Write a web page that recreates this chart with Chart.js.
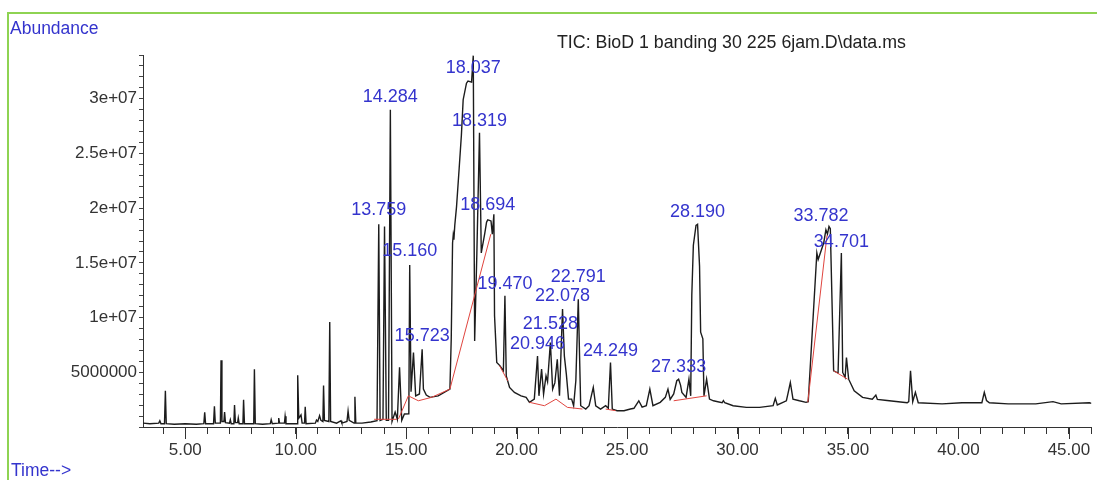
<!DOCTYPE html>
<html>
<head>
<meta charset="utf-8">
<script src="https://cdn.jsdelivr.net/npm/chart.js@4.4.1/dist/chart.umd.min.js"></script>
<style>
  html, body { margin: 0; padding: 0; background: #fff; }
  canvas { display: block; }
</style>
</head>
<body>
<canvas id="tic-chart" width="1097" height="480"></canvas>
<script>
// retention time (min) and abundance of the TIC trace
const traceTime = [
  3.09, 3.4, 3.8, 3.85, 3.9, 4.06, 4.1, 4.14, 4.5, 5.0, 5.5, 5.84, 5.88, 5.92,
  6.28, 6.32, 6.36, 6.59, 6.62, 6.66, 6.75, 6.78, 6.82, 7.0, 7.04, 7.08, 7.2, 7.23,
  7.27, 7.37, 7.4, 7.44, 7.61, 7.64, 7.68, 8.1, 8.13, 8.17, 8.5, 8.85, 8.89, 8.94,
  9.2, 9.23, 9.27, 9.49, 9.52, 9.56, 10.06, 10.09, 10.14, 10.24, 10.29, 10.4, 10.43,
  10.47, 10.89, 10.94, 11.0, 11.08, 11.14, 11.23, 11.26, 11.3, 11.5, 11.54, 11.58,
  11.85, 12.05, 12.09, 12.32, 12.37, 12.42, 12.64, 12.68, 12.72, 13.0, 13.4, 13.68,
  13.759, 13.82, 13.95, 14.02, 14.1, 14.2, 14.284, 14.36, 14.5, 14.6, 14.7, 14.8,
  14.92, 15.12, 15.16, 15.22, 15.33, 15.43, 15.6, 15.723, 15.78, 15.91, 16.08, 16.45,
  16.98, 17.04, 17.1, 17.13, 17.16, 17.2, 17.28, 17.4, 17.5, 17.58, 17.73, 17.8,
  17.96, 18.037, 18.1, 18.2, 18.319, 18.4, 18.56, 18.64, 18.694, 18.84, 18.9, 18.97,
  19.0, 19.05, 19.1, 19.25, 19.4, 19.47, 19.53, 19.68, 19.9, 20.2, 20.43, 20.58,
  20.8, 20.946, 21.01, 21.13, 21.22, 21.33, 21.4, 21.528, 21.63, 21.73, 21.84, 21.94,
  22.078, 22.16, 22.25, 22.35, 22.49, 22.58, 22.68, 22.791, 22.9, 23.13, 23.28, 23.47,
  23.58, 23.8, 24.03, 24.15, 24.249, 24.33, 24.55, 24.86, 25.15, 25.31, 25.53, 25.68,
  25.87, 26.03, 26.17, 26.5, 26.73, 26.85, 26.95, 27.11, 27.25, 27.333, 27.42, 27.48,
  27.67, 27.8, 27.88, 27.93, 28.0, 28.12, 28.19, 28.28, 28.33, 28.43, 28.48, 28.6,
  28.73, 28.91, 29.3, 29.36, 29.42, 29.8, 30.4, 31.0, 31.61, 31.71, 31.8, 32.21,
  32.28, 32.39, 32.51, 32.8, 33.1, 33.2, 33.59, 33.65, 33.9, 34.0, 34.07, 34.14,
  34.2, 34.35, 34.55, 34.7, 34.76, 34.87, 34.93, 35.03, 35.28, 35.66, 36.1, 36.26,
  36.33, 36.77, 37.68, 37.75, 37.83, 37.93, 38.05, 38.18, 39.26, 40.16, 41.06, 41.17,
  41.27, 41.4, 42.25, 43.5, 44.28, 44.65, 45.93, 46.02
];
const traceAbundance = [
  0.35e6, 0.3e6, 0.35e6, 0.57e6, 0.3e6, 0.3e6, 3.29e6, 0.3e6, 0.25e6, 0.3e6, 0.25e6, 0.3e6, 1.33e6, 0.3e6,
  0.3e6, 1.87e6, 0.35e6, 0.35e6, 6.06e6, 0.5e6, 0.5e6, 1.36e6, 0.4e6, 0.35e6, 0.66e6, 0.3e6, 0.3e6, 1.99e6,
  0.4e6, 0.4e6, 0.81e6, 0.3e6, 0.3e6, 2.47e6, 0.3e6, 0.3e6, 5.25e6, 0.3e6, 0.25e6, 0.3e6, 0.66e6, 0.3e6,
  0.35e6, 0.81e6, 0.35e6, 0.35e6, 0.97e6, 0.3e6, 0.3e6, 4.7e6, 0.8e6, 1.09e6, 0.35e6, 0.35e6, 1.84e6,
  0.3e6, 0.35e6, 0.63e6, 0.5e6, 1.03e6, 0.6e6, 0.5e6, 3.77e6, 0.6e6, 0.5e6, 9.53e6, 0.5e6,
  0.35e6, 0.57e6, 0.35e6, 0.5e6, 1.45e6, 0.6e6, 0.35e6, 2.74e6, 0.35e6, 0.35e6, 0.45e6, 0.57e6,
  18.4e6, 0.6e6, 0.7e6, 18.2e6, 0.6e6, 0.6e6, 28.8e6, 0.5e6, 1.36e6, 0.7e6, 5.43e6, 0.6e6,
  1.18e6, 1.2e6, 14.7e6, 3.2e6, 6.76e6, 2.83e6, 3.0e6, 7.06e6, 3.44e6, 2.9e6, 2.69e6, 2.83e6,
  3.44e6, 8.0e6, 16.7e6, 17.4e6, 17.0e6, 18.3e6, 20.0e6, 23.5e6, 26.5e6, 29.7e6, 31.2e6, 31.4e6,
  31.3e6, 33.7e6, 7.8e6, 15.8e6, 26.7e6, 15.8e6, 17.6e6, 18.6e6, 18.8e6, 18.7e6, 17.5e6, 19.3e6,
  10.1e6, 8.0e6, 5.85e6, 5.55e6, 5.1e6, 11.9e6, 4.64e6, 3.59e6, 3.14e6, 2.83e6, 2.69e6, 2.24e6,
  2.53e6, 6.45e6, 2.83e6, 5.25e6, 2.99e6, 4.64e6, 4.1e6, 7.67e6, 3.44e6, 4.0e6, 6.15e6, 2.83e6,
  10.7e6, 6.45e6, 4.8e6, 2.53e6, 2.53e6, 1.93e6, 4.19e6, 11.6e6, 1.93e6, 1.63e6, 1.93e6, 3.59e6,
  1.93e6, 1.63e6, 1.93e6, 1.7e6, 5.85e6, 1.63e6, 1.48e6, 1.48e6, 1.63e6, 1.7e6, 2.38e6, 1.8e6,
  1.93e6, 3.44e6, 1.93e6, 2.24e6, 2.69e6, 3.44e6, 2.5e6, 3.0e6, 4.2e6, 4.34e6, 3.8e6, 3.14e6,
  2.69e6, 4.34e6, 2.83e6, 12.0e6, 16.5e6, 18.3e6, 18.4e6, 14.6e6, 8.6e6, 8.0e6, 2.83e6, 4.34e6,
  2.53e6, 2.38e6, 2.2e6, 2.4e6, 2.2e6, 1.93e6, 1.78e6, 1.78e6, 1.93e6, 2.6e6, 2.0e6, 2.38e6,
  3.0e6, 4.04e6, 2.53e6, 2.38e6, 2.24e6, 2.3e6, 15.8e6, 15.2e6, 16.7e6, 17.9e6, 17.5e6, 18.2e6,
  18.0e6, 5.1e6, 4.9e6, 15.8e6, 4.95e6, 4.5e6, 6.3e6, 4.34e6, 3.29e6, 2.69e6, 2.53e6, 2.9e6,
  2.5e6, 2.4e6, 2.2e6, 2.3e6, 5.1e6, 2.3e6, 3.14e6, 2.2e6, 2.1e6, 2.2e6, 2.2e6, 3.14e6,
  2.4e6, 2.2e6, 2.1e6, 2.1e6, 2.3e6, 2.1e6, 2.2e6, 2.15e6
];

// integration baselines (red), null breaks the line
const baseTime = [
  13.55, 14.58, 14.6,
  14.65, 15.1, 15.55, 16.15, 16.98, 18.83, 18.9,
  19.23, 19.6, 19.7,
  20.58, 21.26, 21.78, 22.3, 22.98, 23.0,
  24.03, 24.48, 24.5,
  27.11, 28.6, 28.7,
  33.18, 34.05, 34.1,
  34.35, 34.98
];
const baseAbundance = [
  0.7e6, 0.7e6, null,
  0.72e6, 2.83e6, 2.38e6, 2.69e6, 3.44e6, 17.5e6, null,
  5.55e6, 4.19e6, null,
  2.24e6, 1.93e6, 2.53e6, 1.78e6, 1.63e6, null,
  1.63e6, 1.48e6, null,
  2.38e6, 2.83e6, null,
  2.24e6, 17.4e6, null,
  5.1e6, 4.34e6
];

// peak labels: retention time text and the abundance level the text sits at
const peakLabels = [
  '13.759', '14.284', '15.160', '15.723', '18.037', '18.319', '18.694', '19.470', '20.946',
  '21.528', '22.078', '22.791', '24.249', '27.333', '28.190', '33.782', '34.701'
];
const peakLabelLevel = [
  19.73e6, 29.98e6, 15.96e6, 8.26e6, 32.55e6, 27.78e6, 20.12e6, 12.94e6, 7.51e6,
  9.32e6, 11.88e6, 13.64e6, 6.91e6, 5.40e6, 19.48e6, 19.12e6, 16.79e6
];

const xMajorTicks = [5, 10, 15, 20, 25, 30, 35, 40, 45];

const FONT = '"Liberation Sans", Arial, sans-serif';
const BLUE = 'rgb(52,52,205)';

const tracePoints = traceTime.map((t, i) => ({ x: t, y: traceAbundance[i] }));
const basePoints = baseTime.map((t, i) => ({ x: t, y: baseAbundance[i] }));

function fmtY(value) {
  if (value < 1e7) return String(Math.round(value));
  const e = Math.floor(Math.log10(value) + 1e-9);
  const m = +(value / Math.pow(10, e)).toFixed(2);
  return m + 'e+' + String(e).padStart(2, '0');
}

const decorations = {
  id: 'decorations',
  beforeDraw(chart) {
    const c = chart.ctx;
    c.save();
    c.fillStyle = '#fff';
    c.fillRect(0, 0, chart.width, chart.height);
    c.strokeStyle = '#8ed352';
    c.lineWidth = 2;
    c.beginPath();
    c.moveTo(8, 480);
    c.lineTo(8, 13);
    c.lineTo(chart.width, 13);
    c.stroke();
    c.font = '17.5px ' + FONT;
    c.fillStyle = BLUE;
    c.textBaseline = 'middle';
    c.textAlign = 'left';
    c.fillText('Abundance', 10, 29);
    c.fillText('Time-->', 11, 471);
    c.fillStyle = '#222';
    c.font = '17.8px ' + FONT;
    c.fillText('TIC: BioD 1 banding 30 225 6jam.D\\data.ms', 557, 43);
    c.restore();
  },
  afterDraw(chart) {
    const c = chart.ctx;
    const xs = chart.scales.x;
    const ys = chart.scales.y;
    const area = chart.chartArea;
    c.save();
    c.strokeStyle = '#333';
    c.lineWidth = 1;
    c.beginPath();
    xMajorTicks.forEach(v => {
      const px = Math.round(xs.getPixelForValue(v)) + 0.5;
      c.moveTo(px, area.bottom);
      c.lineTo(px, area.bottom + 12);
    });
    c.stroke();
    // peak retention time labels
    c.font = '18px ' + FONT;
    c.fillStyle = BLUE;
    c.textAlign = 'center';
    c.textBaseline = 'middle';
    peakLabels.forEach((txt, i) => {
      c.fillText(txt, xs.getPixelForValue(parseFloat(txt)), ys.getPixelForValue(peakLabelLevel[i]));
    });
    c.restore();
  }
};

const ctx = document.getElementById('tic-chart');

new Chart(ctx, {
  type: 'line',
  data: {
    datasets: [
      { data: basePoints, borderColor: '#e0453f', borderWidth: 1, pointRadius: 0, tension: 0, spanGaps: false },
      { data: tracePoints, borderColor: '#1c1c1c', borderWidth: 1.4, pointRadius: 0, tension: 0 }
    ]
  },
  options: {
    responsive: false,
    animation: false,
    events: [],
    layout: { padding: { top: 55, left: 0, right: 0, bottom: 0 } },
    plugins: { legend: { display: false }, tooltip: { enabled: false } },
    scales: {
      x: {
        type: 'linear',
        min: 3.087,
        max: 46.02,
        afterFit: s => { s.height = 53; },
        border: { color: '#333', width: 1 },
        grid: { drawOnChartArea: false, tickLength: 7, color: '#333' },
        ticks: {
          stepSize: 1,
          autoSkip: false,
          maxRotation: 0,
          minRotation: 0,
          includeBounds: false,
          padding: 6,
          color: '#333',
          font: { size: 17, family: FONT },
          callback: v => (Math.round(v) % 5 === 0 ? Math.round(v).toFixed(2) : '')
        }
      },
      y: {
        min: 0,
        max: 3.376e7,
        afterFit: s => { s.width = 143; },
        border: { color: '#333', width: 1 },
        grid: { drawOnChartArea: false, tickLength: 4, color: '#444' },
        ticks: {
          stepSize: 1e6,
          autoSkip: false,
          includeBounds: false,
          padding: 2,
          color: '#333',
          font: { size: 17, family: FONT },
          callback: v => {
            const m = Math.round(v / 1e6);
            return (m > 0 && m % 5 === 0) ? fmtY(m * 1e6) : '';
          }
        }
      }
    }
  },
  plugins: [decorations]
});
</script>
</body>
</html>
